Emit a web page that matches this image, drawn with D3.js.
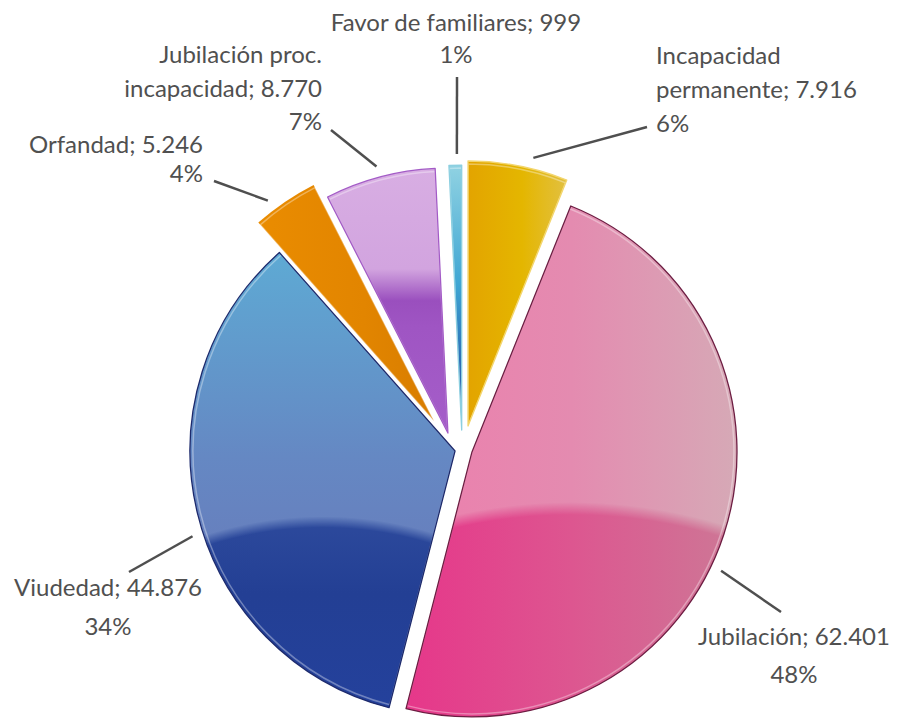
<!DOCTYPE html>
<html>
<head>
<meta charset="utf-8">
<script src="https://cdn.jsdelivr.net/npm/d3@7"></script>
<style>
  body { margin: 0; background: #fff; }
  svg { display: block; }
  .label text { font-family: Lato, 'Open Sans', sans-serif; font-size: 24px; fill: #505050; }
  .leader { stroke: #4f4f4f; stroke-width: 2.5; fill: none; }
</style>
</head>
<body>
<svg id="chart" width="897" height="718"></svg>
<script>
// data, clockwise from 12 o'clock
const categories = [['Incapacidad', 'permanente'], ['Jubilación'], ['Viudedad'], ['Orfandad'], ['Jubilación proc.', 'incapacidad'], ['Favor de familiares']];
const values = [7916, 62401, 44876, 5246, 8770, 999];

let config = {
    cx: 460,
    cy: 448,
    radius: 265,
};

// how far each slice is pulled out of the pie: [distance, direction in degrees]
const explode = [[23.4, 20], [12.6, 108], [5.8, 239], [37.5, 316], [19.2, 321], [18, 5.4]];

// slice looks: top fill, optional darker "dome" at the bottom
const looks = [
    { top: ['h', [[0, '#e3a400'], [0.55, '#e4b600'], [1, '#e2c040']]], stroke: '#f3d66e' },
    { top: ['h', [[0, '#ec7fad'], [0.5, '#e48bb0'], [1, '#d6a9b6']]], bottom: ['h', [[0, '#e6378a'], [0.5, '#dd5690'], [1, '#cd7896']]], stroke: '#6d1d42' },
    { top: ['v', [[0, '#5eaad4'], [0.45, '#6588c3'], [1, '#6a70b4']]], bottom: ['v', [[0.55, '#2f4c9e'], [0.75, '#233f94'], [1, '#24419c']]], stroke: '#1d2a6c' },
    { top: ['h', [[0, '#ea8c00'], [0.6, '#e28500'], [1, '#d87d00']]], stroke: 'none' },
    { top: ['v', [[0, '#d8aee3'], [0.38, '#d2a4df'], [0.5, '#9a4fbe'], [0.6, '#9f55c3'], [1, '#a55ec9']]], stroke: '#a35bc6' },
    { top: ['v', [[0, '#90d2e2'], [0.45, '#3fa6d3'], [0.75, '#2a6cb4'], [1, '#2a58a8']]], stroke: '#8ccfe0' },
];

// label anchors: x, first baseline, anchor, line step, leader start angle, leader end
const labelLayout = [
    { x: 656, y: 64, anchor: 'start', step: 34, la: 13.7, lx: 647, ly: 127 },
    { x: 794, y: 645, anchor: 'middle', step: 38, la: 115.5, lx: 781, ly: 612 },
    { x: 108, y: 596, anchor: 'middle', step: 39, la: 252, lx: 129, ly: 572 },
    { x: 203, y: 153, anchor: 'end', step: 29, la: 323, lx: 214, ly: 181 },
    { x: 322, y: 63, anchor: 'end', step: 33.5, la: 345, lx: 331, ly: 130 },
    { x: 456, y: 31, anchor: 'middle', step: 32, la: 359, lx: 457, ly: 77 },
];

const es = d3.formatLocale({ decimal: ',', thousands: '.', grouping: [3], currency: ['', ' €'] });
const fmtValue = es.format(',d');
const fmtPct = d3.format('.0%');

const svg = d3.select('#chart');
const defs = svg.append('defs');

function addGradient(id, spec) {
    let g = defs.append('linearGradient').attr('id', id);
    if (spec[0] === 'h') {
        g.attr('x1', 0).attr('y1', 0).attr('x2', 1).attr('y2', 0);
    } else {
        g.attr('x1', 0).attr('y1', 0).attr('x2', 0).attr('y2', 1);
    }
    spec[1].forEach(s => g.append('stop').attr('offset', s[0]).attr('stop-color', s[1]));
}

// dome shaped mask for the dark lower part
let dome = defs.append('radialGradient').attr('id', 'domegrad')
    .attr('cx', 0.5).attr('cy', 3.0).attr('r', 2.42);
dome.append('stop').attr('offset', 0).attr('stop-color', '#fff');
dome.append('stop').attr('offset', 0.99).attr('stop-color', '#fff');
dome.append('stop').attr('offset', 1).attr('stop-color', '#000');
defs.append('mask').attr('id', 'dome').attr('maskContentUnits', 'objectBoundingBox')
    .append('rect').attr('width', 1).attr('height', 1).attr('fill', 'url(#domegrad)');

const total = d3.sum(values);
const data = values.map((v, i) => ({ lines: categories[i], value: v, i: i }));

const pie = d3.pie().sort(null).value(d => d.value).startAngle(0).endAngle(2 * Math.PI);
const arc = d3.arc().innerRadius(0).outerRadius(config.radius);
const bevel = d3.arc().innerRadius(0).outerRadius(config.radius - 3);
const rad = deg => deg * Math.PI / 180;

const arcs = pie(data);
arcs.forEach(a => {
    let e = explode[a.index];
    a.ox = config.cx + Math.sin(rad(e[1])) * e[0];
    a.oy = config.cy - Math.cos(rad(e[1])) * e[0];
});

const slices = svg.append('g').selectAll('g.slice').data(arcs).enter()
    .append('g').classed('slice', true)
    .attr('transform', d => 'translate(' + d.ox + ',' + d.oy + ')');

slices.each(function(d) {
    let look = looks[d.index];
    let g = d3.select(this);
    addGradient('top' + d.index, look.top);
    g.append('path').attr('d', arc(d)).attr('fill', 'url(#top' + d.index + ')');
    if (look.bottom) {
        addGradient('bot' + d.index, look.bottom);
        g.append('path').attr('d', arc(d)).attr('fill', 'url(#bot' + d.index + ')').attr('mask', 'url(#dome)');
    }
    g.append('path').attr('d', bevel(d)).attr('fill', 'none')
        .attr('stroke', '#fff').attr('stroke-opacity', 0.35).attr('stroke-width', 1.5);
    g.append('path').attr('d', arc(d)).attr('fill', 'none')
        .attr('stroke', look.stroke).attr('stroke-width', 1.3).attr('stroke-linejoin', 'round');
});

// leader lines
svg.append('g').selectAll('line').data(arcs).enter()
    .append('line').classed('leader', true)
    .attr('x1', d => d.ox + Math.sin(rad(labelLayout[d.index].la)) * (config.radius + 11))
    .attr('y1', d => d.oy - Math.cos(rad(labelLayout[d.index].la)) * (config.radius + 11))
    .attr('x2', d => labelLayout[d.index].lx)
    .attr('y2', d => labelLayout[d.index].ly);

// labels
const labels = svg.append('g').selectAll('g.label').data(arcs).enter()
    .append('g').classed('label', true);

labels.each(function(d) {
    let pos = labelLayout[d.index];
    let lines = d.data.lines.slice();
    lines[lines.length - 1] += '; ' + fmtValue(d.data.value);
    lines.push(fmtPct(d.data.value / total));
    d3.select(this).selectAll('text').data(lines).enter()
        .append('text')
        .attr('x', pos.x)
        .attr('y', (t, k) => pos.y + k * pos.step)
        .attr('text-anchor', pos.anchor)
        .text(t => t);
});
</script>
</body>
</html>
